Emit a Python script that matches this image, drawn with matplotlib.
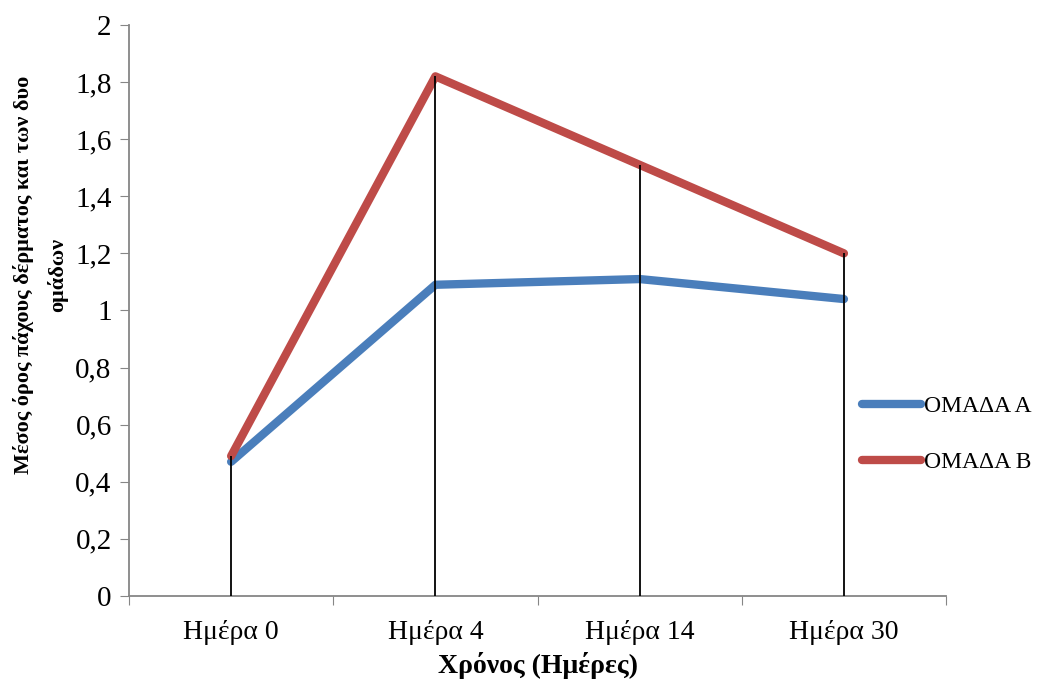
import matplotlib
matplotlib.use('Agg')
import matplotlib.pyplot as plt

days = ['Ημέρα 0', 'Ημέρα 4', 'Ημέρα 14', 'Ημέρα 30']
group_a = [0.47, 1.09, 1.11, 1.04]
group_b = [0.49, 1.82, 1.51, 1.20]
yticks = [0, 0.2, 0.4, 0.6, 0.8, 1, 1.2, 1.4, 1.6, 1.8, 2]

plt.rcParams['font.family'] = ['Liberation Serif', 'DejaVu Serif']

fig = plt.figure(figsize=(10.37, 6.84), dpi=100)
ax = fig.add_axes([0.1244, 0.1287, 0.7879, 0.8348])

x = list(range(len(days)))
ax.plot(x, group_a, color='#4A7EBB', lw=6, solid_capstyle='round',
        solid_joinstyle='round', label='ΟΜΑΔΑ Α', zorder=2)
ax.plot(x, group_b, color='#BE4B48', lw=6, solid_capstyle='round',
        solid_joinstyle='round', label='ΟΜΑΔΑ Β', zorder=2)
# drop lines from the highest point down to the axis
tops = [max(a, b) for a, b in zip(group_a, group_b)]
ax.vlines(x, 0, tops, color='black', lw=1.3, zorder=3)

ax.set_xlim(-0.5, len(days) - 0.5)
ax.set_ylim(0, 2)
ax.set_yticks(yticks)
ax.set_yticklabels([('%g' % v).replace('.', ',') for v in yticks], fontsize=21)
ax.set_xticks([i - 0.5 for i in range(len(days) + 1)])
ax.set_xticklabels([])
ax.set_xticks(x, minor=True)
ax.set_xticklabels(days, minor=True, fontsize=20)
ax.tick_params(axis='x', which='minor', length=0, pad=17)
ax.tick_params(axis='x', which='major', length=6.5, color='#868686')
ax.tick_params(axis='y', length=6.5, color='#868686', pad=6)

for s in ['top', 'right']:
    ax.spines[s].set_visible(False)
for s in ['left', 'bottom']:
    ax.spines[s].set_color('#868686')
    ax.spines[s].set_linewidth(1.3)

ax.set_xlabel('Χρόνος (Ημέρες)', fontsize=20, fontweight='bold', labelpad=5)
fig.text(0.039, 0.598, 'Μέσος όρος πάχους δέρματος και των δυο\nομάδων',
         rotation=90, ha='center', va='center', fontsize=16, fontweight='bold',
         linespacing=1.85)

leg = ax.legend(loc='center left', bbox_to_anchor=(0.831, 0.365),
                bbox_transform=fig.transFigure, frameon=False, fontsize=17,
                handlelength=2.5, handletextpad=0.15, labelspacing=1.45,
                borderpad=0, borderaxespad=0)

plt.savefig('out.png', dpi=100)
